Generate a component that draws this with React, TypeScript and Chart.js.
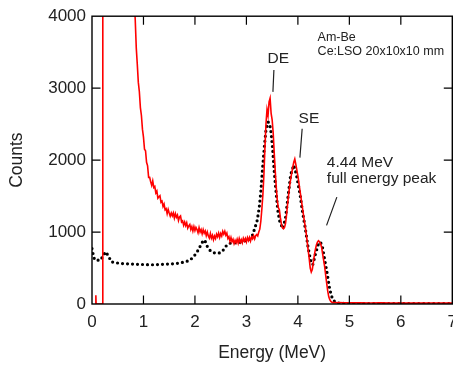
import React, { useEffect, useRef } from "react";
import { Chart, registerables } from "chart.js";

Chart.register(...registerables);

// ---- axis ticks ----
const xTickValues = [0, 1, 2, 3, 4, 5, 6, 7];
const yTickValues = [0, 1000, 2000, 3000, 4000];

// ---- measured spectrum (red) ----
const measHeadEnergy = [0.07, 0.075, 0.08, 0.205, 0.21, 0.4, 0.6, 0.78];
const measHeadCounts = [0, 120, 0, 0, 9000, 15000, 9000, 5200];

// channels of 0.02 MeV from 0.80 MeV to 4.78 MeV
const measChannelStart = 0.8;
const measChannelWidth = 0.02;
const measChannelCounts = [
  4600, 4250, 3950, 3560, 3330, 3080, 2950, 2730, 2620, 2430, // 0.80-0.98
  2320, 2150, 2130, 1970, 1920, 1760, 1760, 1700, 1650, 1710, // 1.00-1.18
  1620, 1635, 1545, 1570, 1470, 1490, 1505, 1415, 1430, 1355, // 1.20-1.38
  1390, 1310, 1325, 1255, 1315, 1265, 1220, 1265, 1225, 1265, // 1.40-1.58
  1195, 1255, 1205, 1235, 1160, 1210, 1225, 1140, 1155, 1095, // 1.60-1.78
  1140, 1090, 1130, 1055, 1085, 1105, 1035, 1075, 1015, 1075, // 1.80-1.98
  1020, 1065, 1035, 990, 1060, 1000, 1035, 975, 1035, 985, // 2.00-2.18
  1015, 950, 1000, 945, 915, 980, 915, 955, 893, 945, // 2.20-2.38
  910, 970, 935, 985, 925, 980, 945, 1010, 970, 1010, // 2.40-2.58
  955, 985, 910, 935, 870, 925, 865, 900, 840, 885, // 2.60-2.78
  850, 900, 847, 910, 858, 895, 852, 914, 875, 911, // 2.80-2.98
  863, 922, 881, 925, 875, 930, 905, 950, 905, 950, // 3.00-3.18
  965, 945, 1000, 1040, 1150, 1320, 1520, 1800, 2180, 2500, // 3.20-3.38
  2700, 2620, 2810, 2860, 2650, 2560, 2380, 2100, 1850, 1620, // 3.40-3.58
  1440, 1340, 1310, 1200, 1110, 1060, 1045, 1065, 1120, 1240, // 3.60-3.78
  1390, 1520, 1640, 1740, 1820, 1900, 1970, 2015, 1940, 1860, // 3.80-3.98
  1780, 1680, 1580, 1480, 1380, 1280, 1180, 1090, 990, 870, // 4.00-4.18
  750, 630, 500, 445, 480, 580, 680, 760, 820, 860, // 4.20-4.38
  880, 865, 840, 790, 700, 610, 520, 400, 286, 180, // 4.40-4.58
  100, 60, 35, 25, 20, 22, 18, 21, 17, 19, // 4.60-4.78
];

const measTailEnergy = [4.9, 5.0, 5.2, 5.4, 5.6, 5.8, 6.0, 6.3, 6.6, 7.0];
const measTailCounts = [18, 15, 17, 14, 15, 12, 14, 12, 13, 12];

// ---- simulation (black dotted) ----
const simEnergy = [
  0, 0.02, 0.05, 0.11, 0.17, 0.22, 0.27, 0.32, 0.38, 0.48, 0.58, 0.8, 1.0, 1.2, 1.4, 1.6,
  1.71, 1.81, 1.9, 1.97, 2.03, 2.08, 2.12, 2.17, 2.2, 2.24, 2.29, 2.35, 2.42, 2.49, 2.55,
  2.62, 2.7, 2.8, 2.9, 3.0, 3.06, 3.12, 3.17, 3.21, 3.25, 3.28, 3.31, 3.35, 3.38, 3.42,
  3.45, 3.48, 3.51, 3.54, 3.57, 3.61, 3.65, 3.71, 3.76, 3.81, 3.86, 3.92, 3.97, 4.04,
  4.09, 4.14, 4.2, 4.26, 4.29, 4.34, 4.4, 4.44, 4.48, 4.52, 4.57, 4.62, 4.67, 4.72, 4.8,
  5.0, 6.0, 7.0,
];
const simCounts = [
  770, 700, 615, 608, 612, 680, 725, 664, 585, 571, 563, 555, 548, 545, 553, 560,
  571, 585, 608, 654, 710, 770, 830, 890, 870, 800, 747, 715, 705, 712, 750,
  820, 850, 850, 860, 885, 900, 960, 1069, 1162, 1346, 1560, 1850, 2200, 2420, 2530,
  2510, 2380, 2150, 1850, 1600, 1300, 1138, 1047, 1200, 1500, 1800, 1930, 1800, 1531,
  1280, 1070, 780, 560, 550, 690, 840, 860, 780, 620, 420, 200, 75, 28, 10,
  6, 5, 4,
];

// ---- annotations (in data coordinates) ----
const labelNotes = [
  { text: "DE", e: 3.62, c: 3405, size: 15.5, align: "center" },
  { text: "SE", e: 4.214, c: 2574, size: 15.5, align: "center" },
  { text: "4.44 MeV", e: 4.563, c: 1969, size: 15.5, align: "left" },
  { text: "full energy peak", e: 4.563, c: 1744, size: 15.5, align: "left" },
  { text: "Am-Be", e: 4.383, c: 3700, size: 12.5, align: "left" },
  { text: "Ce:LSO 20x10x10 mm", e: 4.383, c: 3505, size: 12.5, align: "left" },
];
const leaderLines = [
  { e1: 3.534, c1: 3253, e2: 3.515, c2: 2948 },
  { e1: 4.083, c1: 2436, e2: 4.039, c2: 2035 },
  { e1: 4.757, c1: 1485, e2: 4.557, c2: 1093 },
];

const FONT = "'Liberation Sans', Arial, Helvetica, sans-serif";
const TEXT = "#222";

function buildMeasured() {
  const pts: { x: number; y: number }[] = [];
  measHeadEnergy.forEach((e, i) => pts.push({ x: e, y: measHeadCounts[i] }));
  measChannelCounts.forEach((c, i) =>
    pts.push({ x: +(measChannelStart + i * measChannelWidth).toFixed(3), y: c })
  );
  measTailEnergy.forEach((e, i) => pts.push({ x: e, y: measTailCounts[i] }));
  return pts;
}

const framePlugin = {
  id: "frameTicks",
  afterDatasetsDraw(chart: any) {
    const { ctx, chartArea: a, scales } = chart;
    const xs = scales.x;
    const ys = scales.y;
    ctx.save();
    ctx.strokeStyle = "#000";
    ctx.lineWidth = 1.4;
    ctx.strokeRect(a.left, a.top, a.right - a.left, a.bottom - a.top);
    ctx.lineWidth = 1.2;
    ctx.beginPath();
    const tl = 8.5;
    xTickValues.forEach((v) => {
      if (v === xs.min || v === xs.max) return;
      const px = xs.getPixelForValue(v);
      ctx.moveTo(px, a.bottom);
      ctx.lineTo(px, a.bottom - tl);
      ctx.moveTo(px, a.top);
      ctx.lineTo(px, a.top + tl);
    });
    yTickValues.forEach((v) => {
      if (v === ys.min || v === ys.max) return;
      const py = ys.getPixelForValue(v);
      ctx.moveTo(a.left, py);
      ctx.lineTo(a.left + tl, py);
      ctx.moveTo(a.right, py);
      ctx.lineTo(a.right - tl, py);
    });
    ctx.stroke();

    // leader lines
    ctx.strokeStyle = TEXT;
    ctx.lineWidth = 1.2;
    ctx.beginPath();
    leaderLines.forEach((l) => {
      ctx.moveTo(xs.getPixelForValue(l.e1), ys.getPixelForValue(l.c1));
      ctx.lineTo(xs.getPixelForValue(l.e2), ys.getPixelForValue(l.c2));
    });
    ctx.stroke();

    // labels
    ctx.fillStyle = TEXT;
    ctx.textBaseline = "middle";
    labelNotes.forEach((n) => {
      ctx.font = `${n.size}px ${FONT}`;
      ctx.textAlign = n.align as CanvasTextAlign;
      ctx.fillText(n.text, xs.getPixelForValue(n.e), ys.getPixelForValue(n.c));
    });
    ctx.restore();
  },
};

export default function App() {
  const canvasRef = useRef<HTMLCanvasElement | null>(null);

  useEffect(() => {
    const canvas = canvasRef.current;
    if (!canvas) return;
    const chart = new Chart(canvas, {
      type: "line",
      data: {
        datasets: [
          {
            label: "Measured",
            data: buildMeasured(),
            borderColor: "#ff0000",
            borderWidth: 1.6,
            pointRadius: 0,
            tension: 0,
            fill: false,
          },
          {
            label: "Simulation",
            data: simEnergy.map((e, i) => ({ x: e, y: simCounts[i] })),
            borderColor: "#000000",
            borderWidth: 3.2,
            borderDash: [0, 5],
            borderCapStyle: "round",
            pointRadius: 0,
            tension: 0,
            fill: false,
          },
        ],
      },
      options: {
        animation: false,
        responsive: false,
        devicePixelRatio: 1,
        parsing: false,
        normalized: true,
        layout: { padding: { left: 0, top: 15, right: 17.7, bottom: 0 } },
        plugins: { legend: { display: false }, tooltip: { enabled: false } },
        scales: {
          x: {
            type: "linear",
            min: 0,
            max: 7,
            afterBuildTicks: (s: any) => {
              s.ticks = xTickValues.map((v) => ({ value: v }));
            },
            afterFit: (s: any) => {
              s.height = 62;
            },
            ticks: {
              color: TEXT,
              font: { family: FONT, size: 17 },
              padding: 8,
              maxRotation: 0,
              autoSkip: false,
              callback: (v: any) => String(v),
            },
            grid: { display: false, drawTicks: false },
            border: { display: false },
            title: {
              display: true,
              text: "Energy (MeV)",
              color: TEXT,
              font: { family: FONT, size: 17.5 },
              padding: { top: 0, bottom: 2 },
            },
          },
          y: {
            type: "linear",
            min: 0,
            max: 4000,
            afterBuildTicks: (s: any) => {
              s.ticks = yTickValues.map((v) => ({ value: v }));
            },
            afterFit: (s: any) => {
              s.width = 92;
            },
            ticks: {
              color: TEXT,
              font: { family: FONT, size: 17 },
              padding: 6,
              autoSkip: false,
              callback: (v: any) => String(v),
            },
            grid: { display: false, drawTicks: false },
            border: { display: false },
            title: {
              display: true,
              text: "Counts",
              color: TEXT,
              font: { family: FONT, size: 17.5 },
              padding: { top: 7, bottom: 0 },
            },
          },
        },
      },
      plugins: [framePlugin],
    } as any);
    return () => chart.destroy();
  }, []);

  return (
    <div
      style={{
        position: "absolute",
        left: 0,
        top: 0,
        width: 453,
        height: 366,
        overflow: "hidden",
        background: "#fff",
      }}
    >
      <canvas
        ref={canvasRef}
        width={470}
        height={366}
        style={{ display: "block", width: 470, height: 366 }}
      />
    </div>
  );
}
